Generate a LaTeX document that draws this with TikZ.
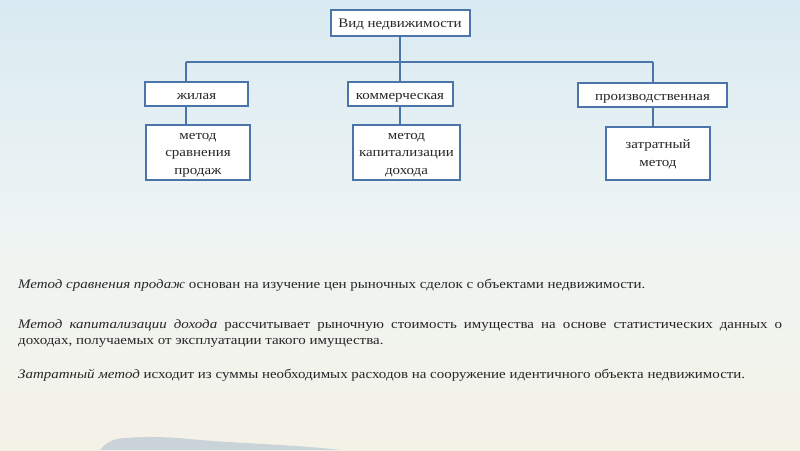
\documentclass[tikz,border=0pt]{standalone}
\usepackage{fontspec}
\setmainfont{Liberation Serif}[FakeStretch=1.15]
\usetikzlibrary{positioning}
\definecolor{boxline}{HTML}{4A74AA}
\definecolor{bgtop}{HTML}{D9EAF2}
\definecolor{bgmid}{HTML}{EEF4F3}
\definecolor{bgbot}{HTML}{F4F2E7}
\definecolor{hill}{HTML}{CAD4D8}
\definecolor{ink}{HTML}{262626}
\newcommand{\topstrut}{\rule{0pt}{11pt}}
\begin{document}
\begin{tikzpicture}
  [
    x=1pt, y=-1pt,
    font=\fontsize{13}{16}\selectfont,
    text=ink,
    box/.style={draw=boxline, line width=2pt, fill=white, inner sep=2pt, align=center,
      font=\fontsize{13}{17.5}\selectfont},
    onebox/.style={box, text height=10pt, text depth=0pt},
    conn/.style={draw=boxline, line width=1.6pt},
    desc/.style={anchor=north west, inner sep=0pt, text width=764pt, align=justify}
  ]
  % background
  \shade [top color=bgtop, bottom color=bgbot, middle color=bgmid] (0,0) rectangle (800,450);
  \fill [hill] (100,450) .. controls (105,444) and (110,439) .. (125,438)
    .. controls (150,436) and (170,437) .. (200,440)
    .. controls (250,444) and (300,445) .. (340,450) -- cycle;
  \useasboundingbox (0,0) rectangle (800,450);
  % boxes
  \node [onebox, minimum width=139pt, minimum height=26pt] (vid)    at (400, 22.5) {Вид недвижимости};
  \node [onebox, minimum width=103pt, minimum height=24pt] (zhil)   at (196.5, 94.0) {жилая};
  \node [onebox, minimum width=105pt, minimum height=24pt] (komm)   at (400, 94.0) {коммерческая};
  \node [onebox, minimum width=149pt, minimum height=24pt] (proizv) at (652.5, 95.0) {производственная};
  \node [box, minimum width=104pt, minimum height=55pt] (sravn) at (198.0, 152.5) {\topstrut метод\\сравнения\\продаж};
  \node [box, minimum width=107pt, minimum height=55pt] (kapit) at (406.5, 152.5) {\topstrut метод\\капитализации\\дохода};
  \node [box, minimum width=104pt, minimum height=53pt] (zatr)  at (658.0, 153.5) {\topstrut затратный\\метод};
  % connectors
  \coordinate (busL) at (186, 62);
  \coordinate (busR) at (653, 62);
  \draw [conn] (busL) -- (busR);
  \draw [conn] (vid.south) -- (komm.north);
  \draw [conn] (busL) -- (busL |- zhil.north);
  \draw [conn] (busR) -- (busR |- proizv.north);
  \draw [conn] (zhil.south -| busL) -- (busL |- sravn.north);
  \draw [conn] (komm.south) -- (komm.south |- kapit.north);
  \draw [conn] (proizv.south -| busR) -- (busR |- zatr.north);
  % descriptions
  \node [desc] (d1) at (18, 279) {\textit{Метод сравнения продаж} основан на изучение цен рыночных сделок с объектами недвижимости.};
  \node [desc] (d2) at (18, 319) {\textit{Метод капитализации дохода} рассчитывает рыночную стоимость имущества на основе статистических данных о\linebreak доходах, получаемых от эксплуатации такого имущества.};
  \node [desc] (d3) at (18, 369) {\textit{Затратный метод} исходит из суммы необходимых расходов на сооружение идентичного объекта недвижимости.};
\end{tikzpicture}
\end{document}
